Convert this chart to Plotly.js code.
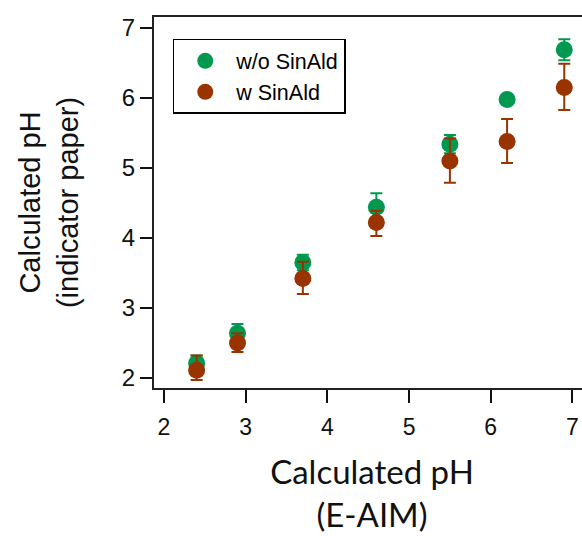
<!DOCTYPE html>
<html>
<head>
<meta charset="utf-8">
<script src="https://cdn.plot.ly/plotly-3.0.1.min.js"></script>
<style>
  html, body { margin: 0; padding: 0; overflow: hidden; background: #fff; }
  #chart { width: 600px; height: 536px; }
</style>
</head>
<body>
<div id="chart"></div>
<script>
// Data
const eAimPH = [2.4, 2.9, 3.7, 4.6, 5.5, 6.2, 6.9];

const withoutName = "w/o SinAld";
const withoutPH = [2.21, 2.64, 3.65, 4.44, 5.34, 5.98, 6.69];
const withoutErr = [0.11, 0.13, 0.11, 0.2, 0.13, 0.02, 0.15];

const withName = "w SinAld";
const withPH = [2.11, 2.5, 3.42, 4.22, 5.1, 5.38, 6.15];
const withErrPlus = [0.21, 0.14, 0.24, 0.17, 0.32, 0.32, 0.34];
const withErrMinus = [0.14, 0.13, 0.22, 0.19, 0.31, 0.31, 0.32];

const xTickVals = [2, 3, 4, 5, 6, 7];
const yTickVals = [2, 3, 4, 5, 6, 7];

const green = "#00994f";
const brown = "#993300";

const traces = [
  {
    type: "scatter", mode: "markers", name: withoutName,
    x: eAimPH, y: withoutPH,
    marker: { color: green, size: 17 },
    error_y: { type: "data", array: withoutErr, visible: true, color: green, thickness: 2, width: 6 }
  },
  {
    type: "scatter", mode: "markers", name: withName,
    x: eAimPH, y: withPH,
    marker: { color: brown, size: 17 },
    error_y: { type: "data", array: withErrPlus, arrayminus: withErrMinus, symmetric: false, visible: true, color: brown, thickness: 2, width: 6 }
  }
];

const layout = {
  width: 600, height: 536,
  margin: { l: 154, r: 10, t: 17, b: 148 },
  paper_bgcolor: "#fff", plot_bgcolor: "#fff",
  font: { family: "Liberation Sans, Arial, sans-serif", color: "#000" },
  showlegend: true,
  legend: {
    x: 0.043, y: 0.941, xanchor: "left", yanchor: "top",
    bordercolor: "#000", borderwidth: 1.5, bgcolor: "#fff",
    font: { size: 21.5, family: "Liberation Sans, Arial, sans-serif", color: "#000" },
    itemwidth: 52, tracegroupgap: 0
  },
  xaxis: {
    range: [1.878, 7.215], tickvals: xTickVals, ticktext: xTickVals.map(String),
    showgrid: false, zeroline: false,
    showline: true, linecolor: "#222", linewidth: 2, mirror: true,
    ticks: "outside", ticklen: 13, tickwidth: 2, tickcolor: "#111",
    ticklabelstandoff: 4,
    tickfont: { size: 23, family: "Liberation Sans, Arial, sans-serif", color: "#111" },
    title: { text: "Calculated pH<br>(E-AIM)", standoff: 22,
             font: { size: 33, family: "Lato, Open Sans, sans-serif", color: "#111" } },
    automargin: false
  },
  yaxis: {
    range: [1.857, 7.157], tickvals: yTickVals, ticktext: yTickVals.map(String),
    showgrid: false, zeroline: false,
    showline: true, linecolor: "#222", linewidth: 2, mirror: true,
    ticks: "outside", ticklen: 12, tickwidth: 2, tickcolor: "#111",
    tickfont: { size: 24, family: "Liberation Sans, Arial, sans-serif", color: "#111" },
    title: { text: "Calculated pH<br>(indicator paper)", standoff: 35,
             font: { size: 29, family: "Liberation Sans, Arial, sans-serif", color: "#111" } },
    automargin: false
  }
};

Plotly.newPlot("chart", traces, layout, { staticPlot: true, displayModeBar: false });
</script>
</body>
</html>
